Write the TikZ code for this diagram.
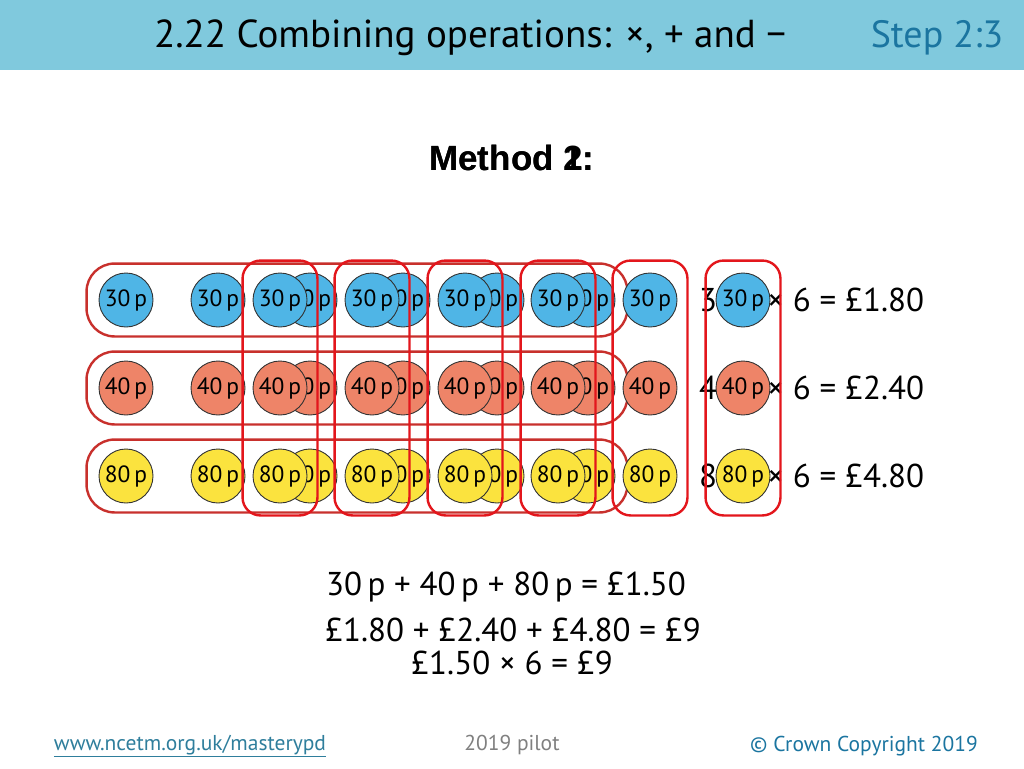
\documentclass[tikz,border=0pt]{standalone}
\usepackage{fontspec}
\setmainfont{PT Sans}
\newfontfamily\headfont{Liberation Sans}
\usetikzlibrary{fit}
\definecolor{barblue}{HTML}{80C9DD}
\definecolor{stepblue}{HTML}{1B75A0}
\definecolor{coinblue}{HTML}{4FB5E6}
\definecolor{coinred}{HTML}{EE8468}
\definecolor{coinyellow}{HTML}{FBE33E}
\definecolor{rowred}{HTML}{C8302C}
\definecolor{colred}{HTML}{E3161C}
\definecolor{linkteal}{HTML}{2F7E9C}

\begin{document}
\begin{tikzpicture}[x=1pt,y=-1pt,
  coin/.style={draw=black!80,line width=0.9pt,circle,minimum size=54pt,inner sep=0pt,font=\fontsize{23.5}{24}\selectfont},
  rowbox/.style={draw=rowred,line width=2.4pt,rounded corners=28pt,inner xsep=12pt,inner ysep=9pt},
  colbox/.style={draw=colred,line width=2.4pt,rounded corners=18pt,inner xsep=10pt,inner ysep=12pt},
  big/.style={font=\fontsize{33}{36}\selectfont,inner sep=0pt},
  foot/.style={font=\fontsize{21.5}{23}\selectfont,inner sep=0pt}]
\useasboundingbox (0,0) rectangle (1024,768);
% ---------- header ----------
\fill[barblue] (0,0) rectangle (1024,70);
\node[font=\fontsize{39}{41}\selectfont] (title) at (470,38) {2.22 Combining operations: ×, + and −};
\node[font=\fontsize{38}{40}\selectfont,text=stepblue] (step) at (937,38) {Step 2:3};
\node[font=\headfont\bfseries\fontsize{35}{37}\selectfont] (meth1) at (512,158) {Method 1:};
\node[font=\headfont\bfseries\fontsize{35}{37}\selectfont] (meth2) at (512,158) {Method 2:};
% ---------- method 1: rows of six ----------
\foreach \x [count=\i] in {126,218,310,403,497,588}{
  \node[coin,fill=coinblue] (a\i) at (\x,300) {30\,p};
  \node[coin,fill=coinred] (b\i) at (\x,388) {40\,p};
  \node[coin,fill=coinyellow] (c\i) at (\x,476) {80\,p};
}
\node[rowbox,fit=(a1)(a6)] (rowA) {};
\node[rowbox,fit=(b1)(b6)] (rowB) {};
\node[rowbox,fit=(c1)(c6)] (rowC) {};
% ---------- method 2: columns of three ----------
\node[big,anchor=west] (eqA) at (699,303) {30\,p × 6 = £1.80};
\node[big,anchor=west] (eqB) at (699,391) {40\,p × 6 = £2.40};
\node[big,anchor=west] (eqC) at (699,479) {80\,p × 6 = £4.80};
\foreach \x [count=\i] in {280,372,465,558,650,743}{
  \node[coin,fill=coinblue] (u\i) at (\x,300) {30\,p};
  \node[coin,fill=coinred] (v\i) at (\x,388) {40\,p};
  \node[coin,fill=coinyellow] (w\i) at (\x,476) {80\,p};
  \node[colbox,fit=(u\i)(w\i)] (col\i) {};
}
% ---------- totals ----------
\node[big] (sumA) at (506,587) {30\,p + 40\,p + 80\,p = £1.50};
\node[big] (sumB) at (513,630) {£1.80 + £2.40 + £4.80 = £9};
\node[big] (sumC) at (512,663) {£1.50 × 6 = £9};
% ---------- footer ----------
\node[foot,text=linkteal] (link) at (190,746) {\underline{www.ncetm.org.uk/masterypd}};
\node[foot,text=black!50] (pilot) at (512,745) {2019 pilot};
\node[foot,text=stepblue] (copy) at (864,746) {© Crown Copyright 2019};
\end{tikzpicture}
\end{document}
